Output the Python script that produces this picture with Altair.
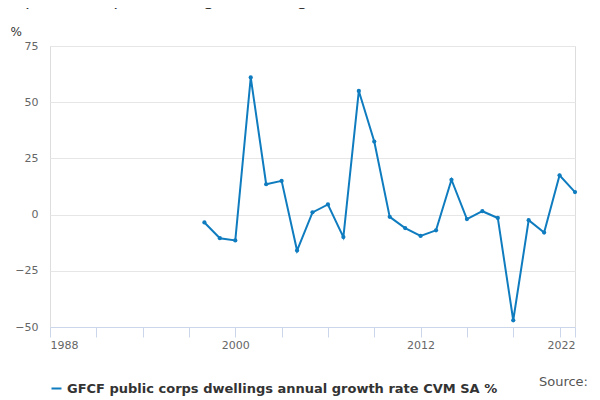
import altair as alt
import pandas as pd

years = list(range(1998, 2023))
growth = [-3.5, -10.5, -11.5, 61, 13.5, 15, -16, 1, 4.5, -10, 55, 32.5, -1, -6,
          -9.5, -7, 15.5, -2, 1.5, -1.5, -47, -2.5, -8, 17.5, 10]
series = "GFCF public corps dwellings annual growth rate CVM SA %"
tick_years = [1988, 1991, 1994, 1997, 2000, 2003, 2006, 2009, 2012, 2015, 2018, 2021, 2022]

df = pd.DataFrame({"year": years, "value": growth, "series": series})

line = (
    alt.Chart(df)
    .mark_line(point=alt.OverlayMarkDef(size=18, filled=True), strokeWidth=2)
    .encode(
        x=alt.X("year:Q", title=None,
                scale=alt.Scale(domain=[1988, 2022], nice=False, zero=False),
                axis=alt.Axis(values=tick_years, grid=False, domainColor="#ccd6eb",
                              tickColor="#ccd6eb", tickSize=10,
                              labelExpr="indexof([1988,2000,2012,2022], datum.value) >= 0 ? datum.value : ''",
                              labelColor="#666", labelFontSize=11)),
        y=alt.Y("value:Q", title="%",
                scale=alt.Scale(domain=[-50, 75], nice=False),
                axis=alt.Axis(values=[-50, -25, 0, 25, 50, 75], gridColor="#e6e6e6",
                              domain=False, ticks=False, labelColor="#666", labelFontSize=11,
                              labelPadding=12,
                              titleAngle=0, titleAlign="left", titleBaseline="bottom",
                              titleY=-8, titleX=-40,
                              titleFontWeight="normal", titleColor="#333", titleFontSize=12)),
        color=alt.Color("series:N", scale=alt.Scale(range=["#0f7cbf"]),
                        legend=alt.Legend(title=None, orient="bottom", labelFontSize=13,
                                          labelFontWeight="bold", labelColor="#333",
                                          symbolType="stroke", symbolStrokeWidth=2,
                                          labelLimit=500, offset=32)),
    )
)

source = alt.Chart(pd.DataFrame({"t": ["Source:"]})).mark_text(
    align="right", fontSize=13, color="#555"
).encode(text="t:N", x=alt.value(538), y=alt.value(336))

chart = (
    (line + source)
    .properties(
        width=525, height=281,
        title=alt.TitleParams("GFCF public corps dwellings annual growth rate CVM SA %",
                              anchor="start", fontSize=18, fontWeight="normal", color="#333",
                              offset=16, dx=-38),
        autosize=alt.AutoSizeParams(type="none"),
        padding={"left": 42, "top": 38, "right": 17, "bottom": 75},
    )
    .configure_view(stroke=None)
    .configure(font="DejaVu Sans")
)

chart.save("out.html", embed_options={"renderer": "svg", "actions": False})
